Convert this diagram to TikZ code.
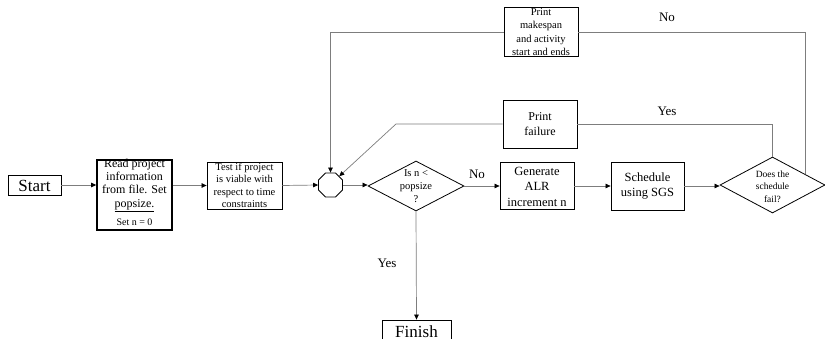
\documentclass[tikz,border=0pt]{standalone}
\usepackage{fontspec}
\setmainfont{Liberation Serif}
\usetikzlibrary{shapes.geometric,arrows.meta}
\definecolor{linegray}{RGB}{125,125,125}
\begin{document}
\begin{tikzpicture}[x=1pt,y=-1pt,
 box/.style={draw=black,line width=0.8pt,inner sep=0pt,rectangle},
 conn/.style={draw=linegray,line width=0.7pt,-{Triangle[length=5pt,width=4.5pt,black]}},
 plain/.style={draw=linegray,line width=0.7pt},
 txt/.style={align=center,inner sep=0pt},
 lbl/.style={font=\fontsize{13}{15}\selectfont,inner sep=0pt}]
\useasboundingbox (0,0) rectangle (825,339);
% nodes
\node[box,minimum width=53pt,minimum height=20pt] (start) at (34.5,185) {};
\node[txt,font=\fontsize{17}{19}\selectfont] (startt) at (34.5,185.5) {Start};
\node[box,line width=1.6pt,minimum width=75pt,minimum height=70pt] (read) at (134.5,195) {};
\node[txt,font=\fontsize{12}{13.2}\selectfont] (readt) at (134.5,185.5) {Read project\\information\\from file. Set\\\underline{popsize.}};
\node[txt,font=\fontsize{10}{12}\selectfont] (readn) at (134.5,222) {Set n = 0};
\node[box,minimum width=75pt,minimum height=47pt] (test) at (244.5,185.5) {};
\node[txt,font=\fontsize{10.5}{12.4}\selectfont] (testt) at (244.5,185.5) {Test if project\\is viable with\\respect to time\\constraints};
\node[draw=black,line width=0.8pt,regular polygon,regular polygon sides=8,minimum size=26pt,inner sep=0pt] (oct) at (330.5,185) {};
\node[draw=black,line width=0.8pt,diamond,minimum width=96pt,minimum height=50pt,inner sep=0pt] (isn) at (416,186) {};
\node[txt,font=\fontsize{10.5}{13}\selectfont] (isnt) at (416,186) {Is n <\\popsize\\?};
\node[box,minimum width=74pt,minimum height=47pt] (gen) at (537,185.5) {};
\node[txt,font=\fontsize{12.5}{15.5}\selectfont] (gent) at (537,186.5) {Generate\\ALR\\increment n};
\node[box,minimum width=73pt,minimum height=48pt] (sched) at (647.5,186) {};
\node[txt,font=\fontsize{12.5}{15}\selectfont] (schedt) at (647.5,186.5) {Schedule\\using SGS};
\node[draw=black,line width=0.8pt,diamond,minimum width=105pt,minimum height=56pt,inner sep=0pt] (does) at (772.5,185) {};
\node[txt,font=\fontsize{9.5}{12.5}\selectfont] (doest) at (772.5,186.5) {Does the\\schedule\\fail?};
\node[box,minimum width=74pt,minimum height=48pt] (fail) at (540,124) {};
\node[txt,font=\fontsize{12}{15}\selectfont] (failt) at (540,124.5) {Print\\failure};
\node[box,minimum width=74pt,minimum height=49pt] (make) at (541,31.5) {};
\node[txt,font=\fontsize{10.5}{13.4}\selectfont] (maket) at (541,32) {Print\\makespan\\and activity\\start and ends};
\node[box,minimum width=69pt,minimum height=30pt] (finish) at (416.5,335) {};
\node[txt,font=\fontsize{17}{19}\selectfont] (finisht) at (416.5,331.5) {Finish};
% helper coordinates
\coordinate (fbend) at (396,124);
\coordinate (dr) at (805,174.3);
\coordinate (tr) at (805,32);
\coordinate (tl) at (330.5,32);
% connectors
\draw[conn] (start.east) -- (start.east -| read.west);
\draw[conn] (read.east |- test.west) -- (test.west);
\draw[conn] (test.east) -- (oct.west);
\draw[conn] (oct.east) -- (oct.east -| isn.west);
\draw[conn] (isn.east) -- (isn.east -| gen.west);
\draw[conn] (gen.east |- sched.west) -- (sched.west);
\draw[conn] (sched.east) -- (sched.east -| does.west);
\draw[conn] (isn.south) -- (finish.north);
\draw[plain] (does.north) |- (fail.east);
\draw[conn] (fail.west) -- (fbend) -- (oct.north east);
\draw[plain] (dr) -- (tr) -- (make.east |- tr);
\draw[conn] (make.west |- tl) -- (tl) -- (oct.north);
% labels
\node[lbl] (lno1) at (477,174) {No};
\node[lbl] (lyes1) at (387,263) {Yes};
\node[lbl] (lno2) at (667,17) {No};
\node[lbl] (lyes2) at (667,111) {Yes};
\end{tikzpicture}
\end{document}
